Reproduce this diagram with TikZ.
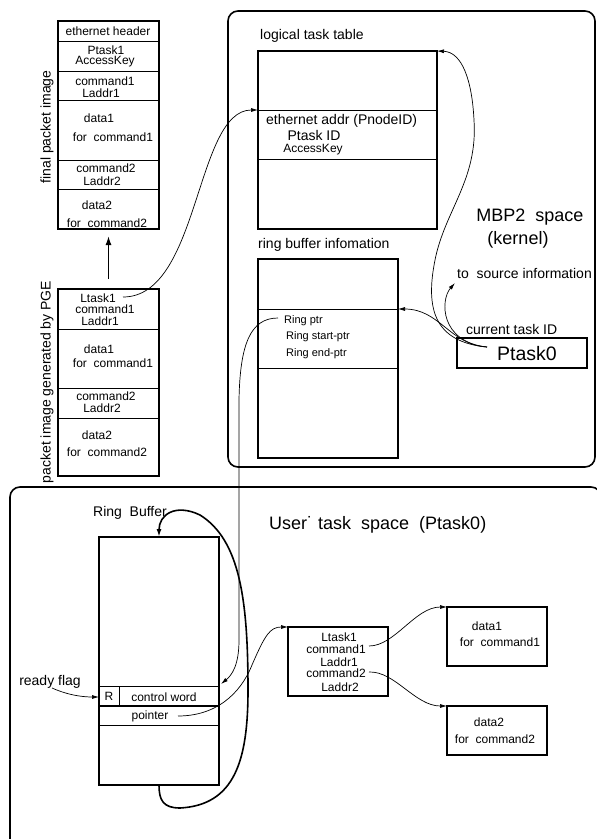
\documentclass[tikz,border=0pt]{standalone}
\usepackage{fontspec}
\setmainfont{Liberation Sans}
\usetikzlibrary{arrows.meta}
\begin{document}
\begin{tikzpicture}[x=1pt,y=-1pt,
  box/.style={draw, line width=1.5pt, inner sep=0pt, outer sep=0pt},
  div/.style={line width=0.6pt},
  con/.style={line width=0.7pt, -{Latex[length=7pt,width=4pt]}},
  loopline/.style={line width=1.6pt, -{Latex[length=8pt,width=5pt]}},
  frame/.style={line width=1.6pt, rounded corners=10pt},
  f11/.style={font=\fontsize{11}{13}\selectfont, inner sep=0pt},
  f12/.style={font=\fontsize{12}{14}\selectfont, inner sep=0pt},
  f14/.style={font=\fontsize{14}{16}\selectfont, inner sep=0pt},
  f18/.style={font=\fontsize{18}{21}\selectfont, inner sep=0pt},
  f20/.style={font=\fontsize{19.5}{22}\selectfont, inner sep=0pt},
]
\useasboundingbox (0,0) rectangle (597,839);

% ---------- final packet image ----------
\node[box, anchor=north west, minimum width=101pt, minimum height=208pt] (fpi) at (58,21) {};
\foreach \yy in {41,71,100,160,189} \draw[div] (58,\yy) -- (159,\yy);
\node[f12] (fpi1) at (108,31) {ethernet header};
\node[f12] (fpi2) at (106,50) {Ptask1};
\node[f12] (fpi3) at (105,62) {AccessKey};
\node[f12] (fpi4) at (105,81) {command1};
\node[f12] (fpi5) at (101,93) {Laddr1};
\node[f12] (fpi6) at (99,118) {data1};
\node[f12] (fpi7) at (113,137) {for\ \ command1};
\node[f12] (fpi8) at (106,168) {command2};
\node[f12] (fpi9) at (102,181) {Laddr2};
\node[f12] (fpi10) at (97,205) {data2};
\node[f12] (fpi11) at (107,223) {for\ \ command2};
\node[f14, rotate=90] (lfpi) at (47,127) {final packet image};

% ---------- packet image generated by PGE ----------
\node[box, anchor=north west, minimum width=101pt, minimum height=187pt] (pge) at (58,289) {};
\foreach \yy in {329,388,418} \draw[div] (58,\yy) -- (159,\yy);
\node[f12] (pge1) at (98,298) {Ltask1};
\node[f12] (pge2) at (105,309) {command1};
\node[f12] (pge3) at (100,321) {Laddr1};
\node[f12] (pge4) at (99,349) {data1};
\node[f12] (pge5) at (113,363) {for\ \ command1};
\node[f12] (pge6) at (106,396) {command2};
\node[f12] (pge7) at (102,408) {Laddr2};
\node[f12] (pge8) at (97,435) {data2};
\node[f12] (pge9) at (107,452) {for\ \ command2};
\node[f14, rotate=90] (lpge) at (47,382) {packet image generated by PGE};

\draw[line width=1.5pt, -{Latex[length=9pt,width=6pt]}, shorten <=10pt, shorten >=7pt] (pge.north) -- (fpi.south);

% ---------- MBP2 space ----------
\draw[frame] (228,11) rectangle (595,467);

\node[f14, anchor=west] (lttT) at (260,36) {logical task table};
\node[box, anchor=north west, minimum width=179pt, minimum height=178pt] (ltt) at (258,51) {};
\foreach \yy in {110,159} \draw[div] (258,\yy) -- (437,\yy);
\node[f14, anchor=west] (ltt1) at (266,121) {ethernet addr (PnodeID)};
\node[f14] (ltt2) at (314,135) {Ptask ID};
\node[f12] (ltt3) at (313,150) {AccessKey};

\node[f14, anchor=west] (rbiT) at (258,245) {ring buffer infomation};
\node[box, anchor=north west, minimum width=140pt, minimum height=199pt] (rbi) at (258,259) {};
\foreach \yy in {309,368} \draw[div] (258,\yy) -- (398,\yy);
\node[f11, anchor=west] (rp) at (284,321) {Ring ptr};
\node[f11, anchor=west] (rsp) at (286,337) {Ring start-ptr};
\node[f11, anchor=west] (rep) at (286,354) {Ring end-ptr};

\node[f18] (mbp) at (530,217) {MBP2\ \ space};
\node[f18] (kern) at (518,240) {(kernel)};
\node[f14, anchor=west] (tsi) at (457,273) {to\ \ source information};
\node[f14, anchor=west] (cti) at (466,329) {current task ID};
\node[box, anchor=north west, minimum width=130pt, minimum height=30pt] (pt0box) at (457,338) {};
\node[f20] (pt0) at (527,354) {Ptask0};

\coordinate (pt0s) at (487,347);
\coordinate (rbiR) at (398,309);
\coordinate (tsiA) at (455,283);
\coordinate (lttW) at (258,110);
\coordinate (ltS) at (123,297);
\coordinate (rpS) at (278,318);
\coordinate (cwTR) at (221,684);

\draw[con] (pt0s) .. controls (450,345) and (440,309) .. (rbiR);
\draw[con] (pt0s) .. controls (440,342) and (440,300) .. (tsiA);
\draw[con] (pt0s) .. controls (435,342) and (425,310) .. (435,260)
  .. controls (445,210) and (478,180) .. (474,120)
  .. controls (472,80) and (462,52) .. (ltt.north east);
\draw[con] (ltS) .. controls (200,297) and (195,110) .. (lttW);
\draw[con] (rpS) .. controls (250,318) and (240,345) .. (239,400) -- (239,640)
  .. controls (239,665) and (232,675) .. (cwTR);

% ---------- User task space ----------
\begin{scope}
\clip (0,0) rectangle (597,839);
\draw[frame] (10,487) rectangle (601,860);
\end{scope}

\node[f14] (rbT) at (130,513) {Ring\ \ Buffer};
\node[f18, anchor=west] (uts) at (269,525) {User˙ task\ \ space\ \ (Ptask0)};

\node[box, anchor=north west, minimum width=120pt, minimum height=248pt] (urb) at (99,537) {};
\draw[div] (99,686) -- (219,686);
\draw[line width=1.5pt] (99,706) -- (219,706);
\draw[div] (99,725) -- (219,725);
\draw[div] (119,686) -- (119,706);
\node[f12] (R) at (109,696) {R};
\node[f12] (cw) at (164,697) {control word};
\node[f12] (ptr) at (150,716) {pointer};

\node[f14] (rf) at (50,682) {ready flag};
\coordinate (rfS) at (52,688);
\coordinate (rIn) at (99,697);
\draw[con] (rfS) .. controls (70,696) and (85,697) .. (rIn);

\draw[loopline] (urb.south) .. controls (159,800) and (163,808) .. (180,808)
  .. controls (235,805) and (248,760) .. (248,690)
  .. controls (248,600) and (240,540) .. (200,515)
  .. controls (175,503) and (159,515) .. (urb.north);

\node[box, anchor=north west, minimum width=100pt, minimum height=69pt] (cmd) at (288,627) {};
\node[f12] (cmd1) at (339,637) {Ltask1};
\node[f12] (cmd2) at (336,649) {command1};
\node[f12] (cmd3) at (339,662) {Laddr1};
\node[f12] (cmd4) at (336,673) {command2};
\node[f12] (cmd5) at (340,687) {Laddr2};

\coordinate (ptrS) at (178,716);
\draw[con] (ptrS) .. controls (215,716) and (240,695) .. (252,665)
  .. controls (265,635) and (270,627) .. (cmd.north west);

\node[box, anchor=north west, minimum width=100pt, minimum height=59pt] (d1) at (447,607) {};
\node[f12] (d1a) at (487,626) {data1};
\node[f12] (d1b) at (500,642) {for\ \ command1};
\node[box, anchor=north west, minimum width=100pt, minimum height=49pt] (d2) at (447,706) {};
\node[f12] (d2a) at (489,722) {data2};
\node[f12] (d2b) at (495,739) {for\ \ command2};

\coordinate (c1S) at (369,646);
\coordinate (c2S) at (369,672);
\draw[con] (c1S) .. controls (395,646) and (415,607) .. (d1.north west);
\draw[con] (c2S) .. controls (395,671) and (415,706) .. (d2.north west);
\end{tikzpicture}
\end{document}
